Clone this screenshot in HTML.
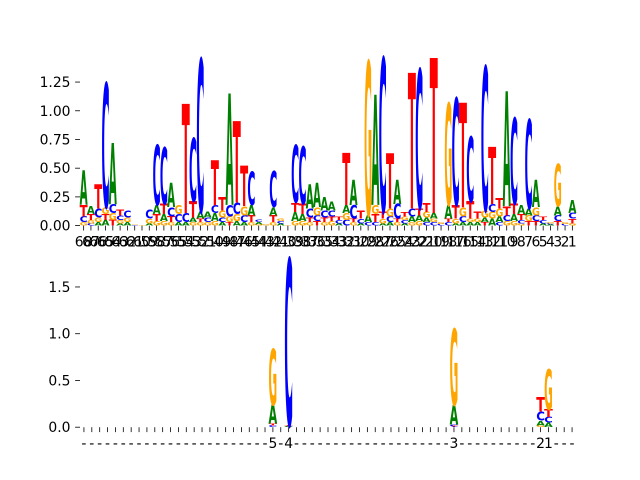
<!DOCTYPE html>
<html><head><meta charset="utf-8"><style>
body{margin:0;background:#fff;}
svg{display:block;font-family:"DejaVu Sans","Liberation Sans",sans-serif;}
</style></head><body>
<svg id="chart" width="640" height="480" viewBox="0 0 640 480">
<g id="top"></g>
<g id="bot"></g>
</svg>
<script>
const topA=[.30,.07,.03,.05,.53,.02,.03,0,0,.02,.08,.06,.21,.03,.03,.04,.06,.05,.07,.03,.97,.04,.03,.09,.02,0,.07,.02,0,.08,.06,.21,.21,.12,.08,.02,.07,.22,.02,.06,.96,.02,.03,.21,.02,.05,.05,.04,.05,0,.12,.02,.03,.03,.03,.04,.06,.05,1.0,.06,.08,.06,.24,.02,.01,.08,0,.11];
const topC=[.05,.02,.08,1.08,.08,.04,.06,.005,0,.08,.52,.49,.08,.07,.08,.55,1.33,.04,.07,.04,.10,.10,.06,.29,.02,0,.31,.02,0,.50,.50,.08,.05,.06,.05,.03,.05,.12,.04,.03,.03,1.34,.05,.13,.03,.07,1.21,.03,.03,.015,.03,.93,.05,.565,0,1.255,.07,.03,.05,.745,.03,.77,.05,.03,.01,.05,.015,.05];
const topG=[.03,.03,.04,.06,.06,.03,.04,.005,.005,.04,.04,.04,.03,.08,0,.03,.03,.03,.04,.06,.05,.06,.08,.03,.01,.01,.03,.02,.005,.04,.04,.03,.07,.03,.04,0,.06,.03,0,1.34,.08,.04,.07,.03,.03,.03,.04,.05,.03,.015,.885,.04,.08,.03,.03,.06,.06,.07,.04,.04,.02,.05,.07,0,.01,.37,.015,.02];
const topT=[.10,.05,.21,.05,.05,.05,0,0,0,0,.06,.09,.05,0,.95,.14,.03,0,.39,.12,.03,.71,.35,.06,0,0,.06,0,0,.08,.09,.04,.04,.04,.04,.03,.45,.03,.07,0,.07,.06,.48,.03,.04,1.18,.06,.08,1.35,0,.03,.12,.91,.15,.06,.03,.50,.09,.08,.09,.05,.04,.04,.03,0,.04,0,.04];
const topYTicks=[0,0.25,0.5,0.75,1.0,1.25];
const topYLabels=["0.00","0.25","0.50","0.75","1.00","1.25"];
const botA=new Array(63).fill(0),botC=new Array(63).fill(0),botG=new Array(63).fill(0),botT=new Array(63).fill(0);
const botIdx=[24,26,47,58,59];
const botAv=[.20,.01,.21,.05,.05];
const botCv=[.02,1.78,.02,.10,.06];
const botGv=[.60,0,.81,.02,.43];
const botTv=[.02,.01,.01,.15,.08];
const botLabelIdx=[24,26,47,58,59];
const botLabelTxt=["5","4","3","2","1"];
const botYTicks=[0,0.5,1.0,1.5];
const botYLabels=["0.0","0.5","1.0","1.5"];
botIdx.forEach((p,k)=>{botA[p]=botAv[k];botC[p]=botCv[k];botG[p]=botGv[k];botT[p]=botTv[k];});

const NS="http://www.w3.org/2000/svg";
const COL={A:"#008000",C:"#0000ff",G:"#ffa500",T:"#ff0000"};
function mk(tag,attrs,parent){const e=document.createElementNS(NS,tag);for(const k in attrs)e.setAttribute(k,attrs[k]);parent.appendChild(e);return e;}

function panel(g,A,C,G,T,y0,y1,ymax,yt,ytl,xlabFn,name){
  const n=A.length,x0=80,x1=576,sp=(x1-x0)/n;
  const xs=i=>x0+sp*(i+0.5);
  const ys=v=>y1-(v/ymax)*(y1-y0);
  for(let i=0;i<n;i++){
    const st=[["A",A[i]],["C",C[i]],["G",G[i]],["T",T[i]]].filter(d=>d[1]>0.001).sort((a,b)=>a[1]-b[1]);
    let acc=0;
    const w=sp*1.1;
    st.forEach(d=>{
      const yb=ys(acc),yt2=ys(acc+d[1]);acc+=d[1];
      const h=yb-yt2; if(h<0.3)return;
      const t=mk("text",{x:0,y:0,"font-size":100,"font-weight":"bold",fill:COL[d[0]],textLength:w.toFixed(2),lengthAdjust:"spacingAndGlyphs",
        transform:`translate(${(xs(i)-w/2).toFixed(2)},${yb.toFixed(2)}) scale(1,${(h/72.9).toFixed(4)})`},g);
      
      
      t.textContent=d[0];
    });
    const tk=mk("line",{x1:xs(i),x2:xs(i),y1:y1,y2:y1+4.9,stroke:"#000","stroke-width":0.8},g);
    
    
    const lb=mk("text",{x:xs(i),y:y1+21,"font-size":13.9,"text-anchor":"middle",fill:"#000"},g);
    
    
    lb.textContent=xlabFn(i);
  }
  yt.forEach((v,k)=>{
    const y=ys(v);
    const l=mk("line",{x1:75.1,x2:80,y1:y,y2:y,stroke:"#000","stroke-width":0.8},g);
    
    
    const t=mk("text",{x:70.5,y:y+5,"font-size":13.9,"text-anchor":"end",fill:"#000"},g);
    
    
    t.textContent=ytl[k];
  });
}
panel(document.getElementById("top"),topA,topC,topG,topT,57.6,225.6,1.463,topYTicks,topYLabels,i=>String(68-i),"top");
panel(document.getElementById("bot"),botA,botC,botG,botT,259.2,427.2,1.797,botYTicks,botYLabels,i=>{const k=botLabelIdx.indexOf(i);return k>=0?botLabelTxt[k]:"-";},"bot");
</script>
</body></html>
